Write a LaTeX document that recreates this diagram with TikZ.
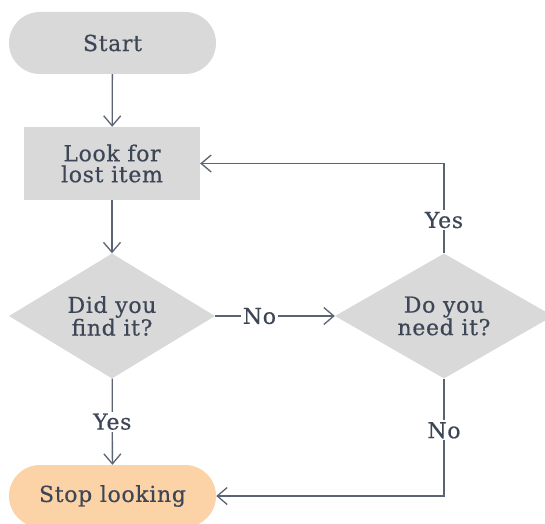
\documentclass[tikz,border=0pt]{standalone}
\usepackage{fontspec}
\setmainfont[LetterSpace=3,FakeBold=0.5]{DejaVu Serif}
\usetikzlibrary{shapes.geometric,arrows.meta,positioning}
\definecolor{boxgray}{HTML}{D9D9D9}
\definecolor{stoporange}{HTML}{FCD3A6}
\definecolor{ink}{HTML}{3D4656}
\definecolor{wire}{HTML}{5B6473}

\begin{document}
\begin{tikzpicture}[x=1pt,y=1pt,
term/.style={rectangle,rounded corners=31pt,minimum width=207pt,minimum height=62pt,fill=boxgray,text=ink,font=\fontsize{22}{23}\selectfont},
proc/.style={rectangle,minimum width=176pt,minimum height=73pt,fill=boxgray,text=ink,align=center,font=\fontsize{22}{21}\selectfont},
decide/.style={diamond,aspect=1.65,inner sep=0pt,minimum width=206pt,minimum height=125pt,fill=boxgray,text=ink,align=center,font=\fontsize{22}{20.5}\selectfont},
lbl/.style={fill=white,inner sep=2pt,text=ink,font=\fontsize{22}{23}\selectfont},
flow/.style={-{Straight Barb[length=10pt,width=17pt]},line width=1.3pt,draw=wire}]
	\clip (0,0) rectangle (545,523);
	\fill[white] (0,0) rectangle (545,523);
	\node[term] at (112.5,480) (start) {Start};
	\node[proc] at (112,359.5) (look) {Look for\\lost item};
	\node[decide] at (112,207) (found) {Did you\\find it?};
	\node[decide,minimum width=218pt] at (444,207) (need) {Do you\\need it?};
	\node[term,fill=stoporange] at (112.5,27) (stop) {Stop looking};

	\draw[flow] (start) -- (look);
	\draw[flow] (look) -- (found);
	\draw[flow] (found) -- node[lbl,pos=0.37] {No} (need);
	\draw[flow] (found) -- node[lbl] {Yes} (stop);
	\draw[flow] (need.north) -- node[lbl,pos=0.37] {Yes} (need.north |- look.east) -- (look.east);
	\draw[flow] (need.south) -- node[lbl,pos=0.44] {No} (need.south |- stop.east) -- (stop.east);
\end{tikzpicture}
\end{document}
